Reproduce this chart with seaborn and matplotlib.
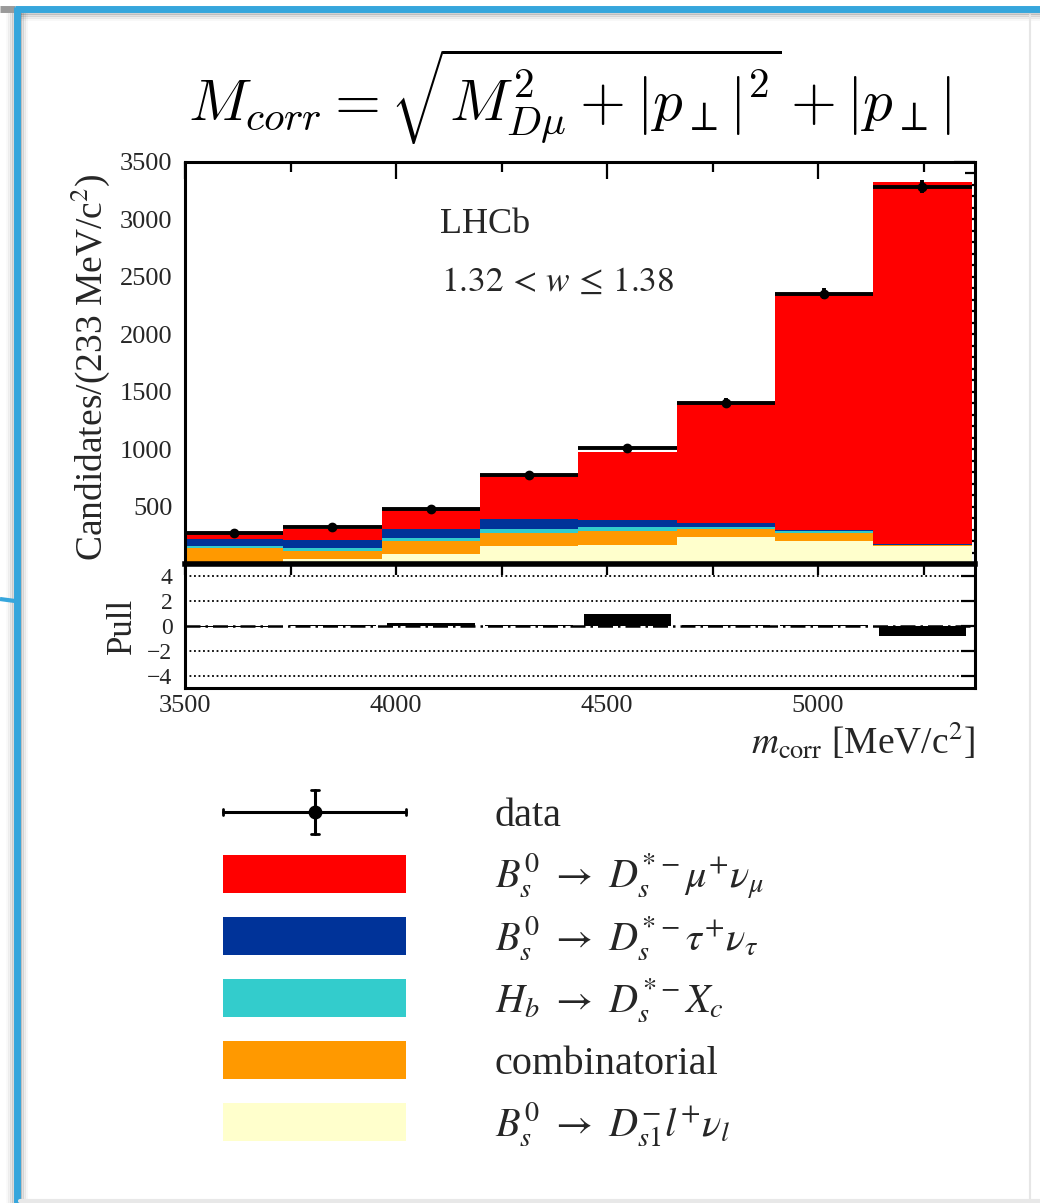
import numpy as np
import pandas as pd
import seaborn as sns
import matplotlib
matplotlib.use("Agg")
import matplotlib.pyplot as plt
from matplotlib.ticker import MultipleLocator, FixedLocator
from matplotlib.patches import Rectangle

# ---------------- data ----------------
bin_edges = [3500, 3733, 3966, 4199, 4432, 4665, 4898, 5131, 5364]
comp_Ds1 = [20, 46, 84, 159, 167, 231, 202, 155]          # B_s -> D_s1 l nu
comp_comb = [121, 69, 118, 107, 116, 70, 69, 10]          # combinatorial
comp_Hb = [15, 21, 23, 40, 35, 17, 15, 3]                 # H_b -> D_s* X_c
comp_tau = [58, 72, 81, 84, 69, 35, 9, 5]                 # B_s -> D_s* tau nu
comp_mu = [44, 95, 168, 373, 587, 1042, 2060, 3150]       # B_s -> D_s* mu nu
data_counts = [271, 321, 483, 772, 1008, 1404, 2352, 3283]
data_errors = [16, 18, 22, 28, 32, 37, 48, 57]
pulls = [-0.1, 0.1, 0.25, 0.1, 1.0, 0.06, 0.1, -0.8]

comp_names = ["mu", "tau", "Hb", "comb", "Ds1"]
comp_colors = ["#ff0000", "#003399", "#33cccc", "#ff9900", "#ffffcc"]
comp_labels = [
    r"$B_s^0\ \rightarrow\ D_s^{*-}\mu^{+}\nu_\mu$",
    r"$B_s^0\ \rightarrow\ D_s^{*-}\tau^{+}\nu_\tau$",
    r"$H_b\ \rightarrow\ D_s^{*-}X_c$",
    "combinatorial",
    r"$B_s^0\ \rightarrow\ D_{s1}^{-}l^{+}\nu_l$",
]

# ---------------- style ----------------
sns.set_theme(style="white")
plt.rcParams["font.family"] = ["Liberation Serif", "DejaVu Serif"]
plt.rcParams["mathtext.fontset"] = "stix"
plt.rcParams["axes.edgecolor"] = "black"

W, H = 1040, 1203
fig = plt.figure(figsize=(W / 100, H / 100), dpi=100)
fig.patch.set_facecolor("white")

# overlay axes in pixel coords for decorations / legend
ov = fig.add_axes([0, 0, 1, 1])
ov.set_xlim(0, W)
ov.set_ylim(H, 0)
ov.axis("off")

# frame decoration
blue = "#36a6dc"
for k, a in enumerate([0.18, 0.12, 0.07, 0.03]):
    ov.plot([20, W], [13 + 2 * k, 13 + 2 * k], color="black", alpha=a, lw=2, solid_capstyle="butt")
    ov.plot([20 + 2 * k, 20 + 2 * k], [12, H], color="black", alpha=a, lw=2, solid_capstyle="butt")
    ov.plot([13 - 2 * k, 13 - 2 * k], [12, H], color="black", alpha=a * 0.8, lw=2, solid_capstyle="butt")
ov.plot([0, 15], [9, 9], color="#9a9a9a", lw=5, solid_capstyle="butt")
ov.plot([15, W], [9, 9], color=blue, lw=5, solid_capstyle="butt")
ov.plot([16.5, 16.5], [7, H], color=blue, lw=5, solid_capstyle="butt")
ov.plot([0, 15], [599, 601], color=blue, lw=3, solid_capstyle="butt")
ov.plot([1030, 1030], [15, H], color="#e6e6e6", lw=1.5)
ov.plot([20, W], [1201, 1201], color="#e8e8e8", lw=3)

# title formula
ov.text(569, 121, r"$M_{corr} = \sqrt{M^2_{D\mu} + |p_\perp|^2} + |p_\perp|$",
        fontsize=42.5, math_fontfamily="cm", ha="center", va="baseline", color="black")

# ---------------- main axes ----------------
x0, x1 = 185, 975
yt, yb = 162, 564
yp = 688
ax = fig.add_axes([x0 / W, 1 - yb / H, (x1 - x0) / W, (yb - yt) / H])
axp = fig.add_axes([x0 / W, 1 - yp / H, (x1 - x0) / W, (yp - yb) / H])

centers = [(bin_edges[i] + bin_edges[i + 1]) / 2 for i in range(len(bin_edges) - 1)]
widths = [bin_edges[i + 1] - bin_edges[i] for i in range(len(bin_edges) - 1)]
comp_values = [comp_mu, comp_tau, comp_Hb, comp_comb, comp_Ds1]
rows = []
for name, vals in zip(comp_names, comp_values):
    for c, v in zip(centers, vals):
        rows.append({"m": c, "component": name, "count": v})
df = pd.DataFrame(rows)

sns.histplot(data=df, x="m", weights="count", hue="component", hue_order=comp_names,
             palette=comp_colors, multiple="stack", bins=bin_edges, element="bars",
             alpha=1, linewidth=0, legend=False, ax=ax)

ax.errorbar(centers, data_counts, xerr=[w / 2 for w in widths], yerr=data_errors,
            fmt="o", color="black", ms=6, elinewidth=2.8, capsize=0, zorder=5)

ax.set_xlim(3500, 5372)
ax.set_ylim(0, 3500)
ax.yaxis.set_major_locator(FixedLocator([500, 1000, 1500, 2000, 2500, 3000, 3500]))
ax.yaxis.set_minor_locator(MultipleLocator(100))
ax.xaxis.set_major_locator(MultipleLocator(500))
ax.xaxis.set_minor_locator(MultipleLocator(250))
ax.set_xticklabels([])
ax.tick_params(axis="both", which="both", direction="in", top=True, right=True, color="black")
ax.tick_params(axis="y", which="major", length=15, width=1.6, labelsize=19, pad=9)
ax.tick_params(axis="y", which="minor", length=7, width=1.6)
ax.tick_params(axis="x", which="major", length=12, width=1.6)
ax.tick_params(axis="x", which="minor", length=7, width=1.6)
for s in ax.spines.values():
    s.set_linewidth(2.2)
    s.set_color("black")
ax.set_xlabel("")
ax.set_ylabel(r"Candidates/(233 MeV/c$^2$)", fontsize=27)
ax.yaxis.set_label_coords(-0.092, 0.49)

ax.text(0.323, 0.845, "LHCb", transform=ax.transAxes, fontsize=26, ha="left", va="center")
ax.text(0.324, 0.7, r"$1.32\,<\,w\,\leq\,1.38$", transform=ax.transAxes, fontsize=25.5,
        ha="left", va="center")

# ---------------- pull axes ----------------
pull_w = [0.89 * w for w in widths]
axp.bar(centers, pulls, width=pull_w, color="black", linewidth=0, zorder=3)
for yv in [-4, -2, 2, 4]:
    axp.axhline(yv, color="black", ls=(0, (1, 1.5)), lw=1.3, zorder=1)
axp.axhline(0, color="black", ls=(0, (6, 2, 1, 2)), lw=1.8, zorder=2)
axp.set_xlim(3500, 5372)
axp.set_ylim(-5, 5)
axp.yaxis.set_major_locator(FixedLocator([-4, -2, 0, 2, 4]))
axp.set_yticklabels(["\u22124", "\u22122", "0", "2", "4"])
axp.xaxis.set_major_locator(MultipleLocator(500))
axp.xaxis.set_minor_locator(MultipleLocator(250))
axp.set_xticks([3500, 4000, 4500, 5000])
axp.set_xticklabels(["3500", "4000", "4500", "5000"])
axp.tick_params(axis="both", which="both", direction="in", top=True, right=True, color="black")
axp.tick_params(axis="y", which="major", length=10, width=1.6, labelsize=17, pad=9)
axp.tick_params(axis="x", which="major", length=8, width=1.6, labelsize=19, pad=5)
axp.tick_params(axis="x", which="minor", length=8, width=1.6)
for s in axp.spines.values():
    s.set_linewidth(2.2)
    s.set_color("black")
axp.spines["top"].set_linewidth(4)
axp.set_ylabel("Pull", fontsize=25)
axp.yaxis.set_label_coords(-0.058, 0.5)
axp.set_xlabel(r"$m_{\mathrm{corr}}$ [MeV/c$^2$]", fontsize=27, ha="right")
axp.xaxis.set_label_coords(1.0, -0.26)

# ---------------- legend (manual) ----------------
lx0, lx1 = 223, 406
row0, dy = 812, 62
tx = 495
# data entry
ov.plot([lx0, lx1], [row0, row0], color="black", lw=2.2)
ov.plot([lx0, lx0], [row0 - 3, row0 + 3], color="black", lw=2)
ov.plot([lx1, lx1], [row0 - 3, row0 + 3], color="black", lw=2)
ov.plot([315, 315], [row0 - 22, row0 + 22], color="black", lw=2.2)
ov.plot([311, 319], [row0 - 22, row0 - 22], color="black", lw=2)
ov.plot([311, 319], [row0 + 22, row0 + 22], color="black", lw=2)
ov.plot([315], [row0], "o", color="black", ms=9)
ov.text(tx, row0 + 14, "data", fontsize=29, ha="left", va="baseline")
for i, (col, lab) in enumerate(zip(comp_colors, comp_labels)):
    yc = row0 + dy * (i + 1)
    ov.add_patch(Rectangle((lx0, yc - 19), lx1 - lx0, 38, facecolor=col, edgecolor="none"))
    ov.text(tx, yc + 14, lab, fontsize=29, ha="left", va="baseline")

fig.savefig("out.png", dpi=100)
